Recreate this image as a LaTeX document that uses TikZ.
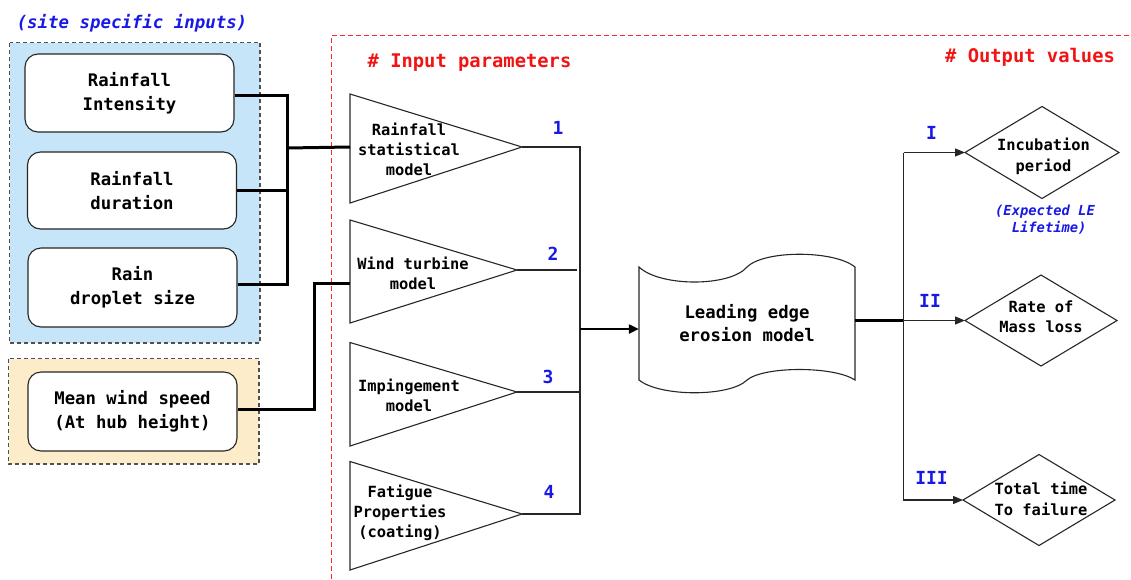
\documentclass[tikz,border=0pt]{standalone}
\usepackage{fontspec}
\newfontfamily\dmono{DejaVu Sans Mono}
\usetikzlibrary{arrows.meta}
\definecolor{boxblue}{RGB}{198,229,248}
\definecolor{boxorange}{RGB}{253,236,201}
\definecolor{txtblue}{RGB}{25,25,230}
\definecolor{txtred}{RGB}{240,20,20}
\definecolor{framegray}{RGB}{80,80,80}
\definecolor{redline}{RGB}{255,40,40}
\begin{document}
\begin{tikzpicture}[x=1pt,y=-1pt,
  group/.style={draw=framegray, dash pattern=on 4pt off 3pt, line width=1.1pt},
  inbox/.style={draw=black!85, line width=1.1pt, fill=white, rounded corners=13pt,
    align=center, inner sep=0pt, minimum width=209pt,
    font=\dmono\bfseries\fontsize{17.3}{24}\selectfont},
  thickln/.style={line width=3pt, black, line join=miter},
  midln/.style={line width=2.2pt, black},
  thinln/.style={line width=1.1pt, black!85},
  tri/.style={draw=black!85, line width=1.1pt, line join=miter},
  tritext/.style={align=center, inner sep=0pt, font=\dmono\bfseries\fontsize{15.4}{20}\selectfont},
  numlbl/.style={inner sep=0pt, text=txtblue, font=\dmono\bfseries\fontsize{18}{20}\selectfont},
  head/.style={inner sep=0pt, text=txtred, font=\dmono\bfseries\fontsize{18.8}{22}\selectfont},
  bigarrow/.style={line width=2.2pt, -{Triangle[length=10pt,width=9pt]}},
  outarrow/.style={thinln, -{Triangle[length=10pt,width=8pt]}},
  dtext/.style={align=center, inner sep=0pt, font=\dmono\bfseries\fontsize{15.4}{20.5}\selectfont},
  redframe/.style={draw=redline, line width=1.8pt, dash pattern=on 5pt off 3pt},
]
\useasboundingbox (0,0) rectangle (1131,579);

% group frames
\draw[group, fill=boxblue] (9.5,42.5) rectangle (260,343);
\draw[group, fill=boxorange] (8.5,358.5) rectangle (259,464);
\node[inner sep=0pt, text=txtblue, font=\dmono\bfseries\itshape\fontsize{17.4}{20}\selectfont] (site) at (132,23) {(site specific inputs)};

% red dashed frame
\draw[redframe] (331.5,579) -- (331.5,35.5) -- (1131,35.5);
\node[head] (hin) at (469.5,63) {\# Input parameters};
\node[head] (hout) at (1030,57) {\# Output values};

% input boxes
\node[inbox, minimum height=78pt] (b1) at (129.5,93) {Rainfall\\Intensity};
\node[inbox, minimum height=77pt] (b2) at (132,190.5) {Rainfall\\duration};
\node[inbox, minimum height=79pt] (b3) at (132.5,287.5) {Rain\\droplet size};
\node[inbox, minimum height=79pt] (b4) at (132.5,411.5) {Mean wind speed\\(At hub height)};

% triangles
\coordinate (t1w) at (350,147);
\coordinate (t1a) at (522,147);
\draw[tri] (350,94) -- (t1a) -- (350,203) -- cycle;
\node[tritext] (t1) at (409,149) {Rainfall\\statistical\\model};

\coordinate (t2w) at (350,283);
\coordinate (t2a) at (517,270);
\draw[tri] (350,220) -- (t2a) -- (350,323) -- cycle;
\node[tritext] (t2) at (413,273) {Wind turbine\\model};

\coordinate (t3a) at (517,392);
\draw[tri] (350,342.5) -- (t3a) -- (350,446) -- cycle;
\node[tritext] (t3) at (409,395.5) {Impingement\\model};

\coordinate (t4a) at (522,514);
\draw[tri] (350,461.5) -- (t4a) -- (350,570) -- cycle;
\node[tritext] (t4) at (400,513) {Fatigue\\Properties\\(coating)};

\node[numlbl] (n1) at (558,128) {1};
\node[numlbl] (n2) at (553,254) {2};
\node[numlbl] (n3) at (548,377) {3};
\node[numlbl] (n4) at (549,492) {4};

% input connectors
\coordinate (j1) at (287,148);
\draw[thickln] (b1.east |- 0,95.5) -| (j1);
\draw[thickln] (b3.east |- 0,284) -| (j1);
\draw[thickln] (b2.east) -- (b2.east -| j1);
\draw[thickln] (j1) -- (t1w);
\coordinate (jw) at (314,409);
\draw[thickln] (b4.east |- jw) -- (jw) |- (t2w);

% outputs of triangles to bus
\coordinate (bus4) at (580,514);
\coordinate (bm) at (580,329);
\draw[thinln] (t1a) -| (bus4) -- (t4a);
\draw[thinln] (t2a) -- (577,270);
\draw[thinln] (t3a) -- (t3a -| bus4);

% leading edge erosion model (tape)
\draw[tri] (639,267) .. controls (660,287) and (730,287) .. (747,267)
  .. controls (764,250) and (834,250) .. (855,267) -- (855,380)
  .. controls (834,366) and (764,366) .. (747,380)
  .. controls (730,397) and (660,397) .. (639,380) -- cycle;
\node[align=center, inner sep=0pt, minimum width=216pt, minimum height=113pt,
  font=\dmono\bfseries\fontsize{17.3}{23}\selectfont] (le) at (747,323) {Leading edge\\erosion model};
\draw[bigarrow] (bm) -- (bm -| le.west);

% output side
\coordinate (ob) at (903.5,320.5);
\coordinate (vtop) at (903.5,152.5);
\coordinate (vbot) at (903.5,501);
\draw[midln] (le.east |- ob) -- (ob);
\draw[thinln] (vtop) -- (vbot);

\coordinate (d1w) at (965,152.5);
\draw[tri] (d1w) -- (1042,106.5) -- (1119,152.5) -- (1042,198.5) -- cycle;
\node[dtext] (d1) at (1043.5,156.5) {Incubation\\period};

\coordinate (d2w) at (965,320.5);
\draw[tri] (d2w) -- (1041,275) -- (1117,320.5) -- (1041,366) -- cycle;
\node[dtext] (d2) at (1041,317) {Rate of\\Mass loss};

\coordinate (d3w) at (963,500);
\draw[tri] (d3w) -- (1039,454.5) -- (1115,500) -- (1039,545.5) -- cycle;
\node[dtext] (d3) at (1041,499) {Total time\\To failure};

\draw[outarrow] (vtop) -- (d1w);
\draw[outarrow] (ob) -- (d2w);
\draw[outarrow] (vbot |- d3w) -- (d3w);

\node[numlbl] (r1) at (931.5,133) {I};
\node[numlbl] (r2) at (930,301) {II};
\node[numlbl] (r3) at (931.5,478) {III};

\node[align=center, inner sep=0pt, text=txtblue,
  font=\dmono\bfseries\itshape\fontsize{13.8}{16.5}\selectfont] (exp) at (1045,219.5)
  {(Expected LE\\\phantom{x}Lifetime)};
\end{tikzpicture}
\end{document}
